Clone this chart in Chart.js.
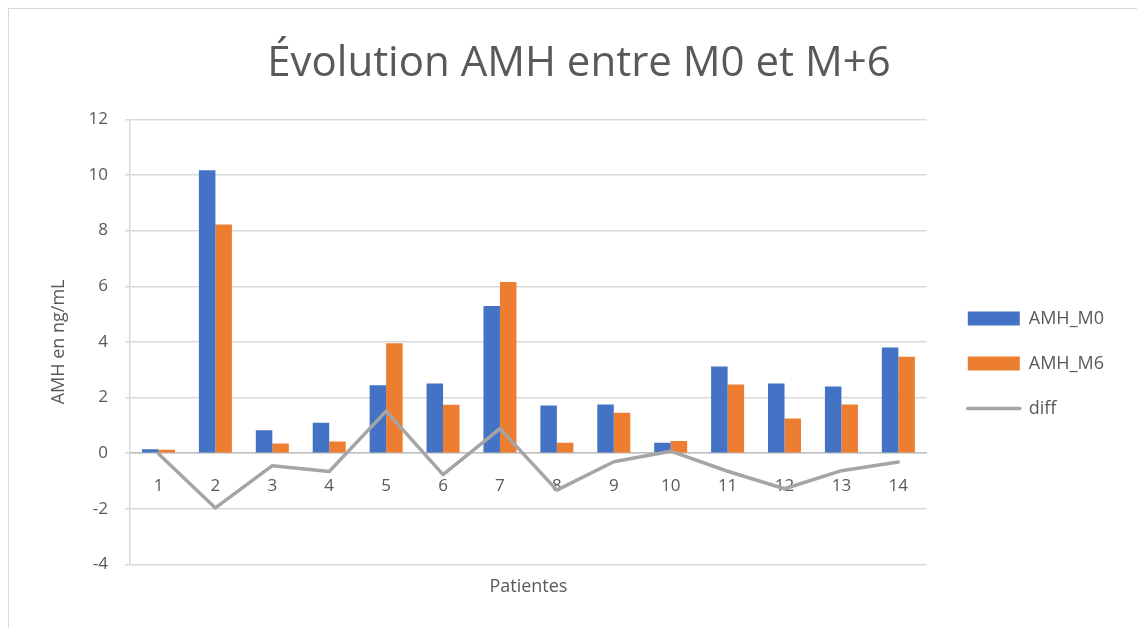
<!DOCTYPE html>
<html>
<head>
<meta charset="utf-8">
<script src="https://cdn.jsdelivr.net/npm/chart.js@4/dist/chart.umd.min.js"></script>
<style>
    html, body { margin: 0; padding: 0; background: #ffffff; }
    #frame { position: absolute; left: 8px; top: 8px; width: 1140px; height: 630px; border: 1px solid #d9d9d9; }
    #wrap { position: absolute; left: 0; top: 0; width: 1137px; height: 628px; }
</style>
</head>
<body>
<div id="frame"></div>
<div id="wrap"><canvas id="amhChart"></canvas></div>
<script>
// Patient numbers (categories)
const patientes = ["1", "2", "3", "4", "5", "6", "7", "8", "9", "10", "11", "12", "13", "14"];
// AMH values (ng/mL) at M0 and M+6
const amhM0 = [0.14, 10.17, 0.82, 1.09, 2.44, 2.50, 5.29, 1.71, 1.75, 0.37, 3.12, 2.50, 2.40, 3.80];
const amhM6 = [0.12, 8.22, 0.35, 0.42, 3.95, 1.74, 6.15, 0.37, 1.45, 0.44, 2.47, 1.25, 1.75, 3.47];
const diff = [-0.02, -1.97, -0.45, -0.66, 1.51, -0.77, 0.88, -1.33, -0.31, 0.07, -0.65, -1.28, -0.63, -0.32];
const yMin = -4;
const yMax = 12;
const yStep = 2;

const textColor = "#595959";
const fontFamily = "'Open Sans', 'Liberation Sans', sans-serif";

document.addEventListener("DOMContentLoaded", function () {
    const ctx = document.getElementById("amhChart").getContext("2d");
    new Chart(ctx, {
        type: "bar",
        data: {
            labels: patientes,
            datasets: [
                { label: "AMH_M0", data: amhM0, backgroundColor: "#4472C4", order: 1 },
                { label: "AMH_M6", data: amhM6, backgroundColor: "#ED7D31", order: 1 },
                {
                    type: "line", label: "diff", data: diff,
                    borderColor: "#A5A5A5", backgroundColor: "#A5A5A5",
                    borderWidth: 3.5, pointRadius: 0, tension: 0,
                    borderCapStyle: "round", borderJoinStyle: "round", order: 0
                }
            ]
        },
        options: {
            responsive: true,
            maintainAspectRatio: false,
            animation: false,
            categoryPercentage: 0.58,
            barPercentage: 1.0,
            layout: { padding: { left: 44, right: 23, top: 39, bottom: 26 } },
            plugins: {
                title: {
                    display: true,
                    text: "Évolution AMH entre M0 et M+6",
                    color: textColor,
                    font: { family: fontFamily, size: 42, weight: "normal" },
                    padding: { top: 0, bottom: 30 }
                },
                legend: {
                    position: "right",
                    // empty title, only used to push the items down
                    title: { display: true, text: "", font: { size: 10 }, padding: { top: 37, bottom: 37 } },
                    labels: {
                        usePointStyle: true,
                        pointStyleWidth: 52,
                        boxHeight: 14,
                        padding: 27,
                        color: textColor,
                        font: { family: fontFamily, size: 18 },
                        generateLabels: function (chart) {
                            const items = Chart.defaults.plugins.legend.labels.generateLabels(chart);
                            items.sort((a, b) => a.datasetIndex - b.datasetIndex);
                            items.forEach(item => {
                                if (item.datasetIndex === 2) {
                                    item.pointStyle = "line";
                                    item.lineWidth = 3.5;
                                    item.lineCap = "round";
                                } else {
                                    item.pointStyle = "rect";
                                    item.lineWidth = 0;
                                }
                            });
                            return items;
                        }
                    }
                },
                tooltip: { enabled: false }
            },
            scales: {
                x: {
                    position: { y: 0 },
                    grid: { display: false },
                    border: { color: "#bfbfbf", width: 1.5 },
                    ticks: { color: textColor, font: { family: fontFamily, size: 17 }, padding: 15 }
                },
                x2: {
                    type: "category",
                    labels: patientes,
                    position: "bottom",
                    grid: { display: false },
                    border: { display: false },
                    ticks: { display: false },
                    title: {
                        display: true, text: "Patientes", color: textColor,
                        font: { family: fontFamily, size: 18 }
                    }
                },
                y: {
                    min: yMin,
                    max: yMax,
                    ticks: { stepSize: yStep, color: textColor, font: { family: fontFamily, size: 17 }, padding: 17 },
                    grid: { color: "#d9d9d9", lineWidth: 1.5, tickLength: 5 },
                    border: { color: "#d9d9d9", width: 1.5 },
                    title: {
                        display: true, text: "AMH en ng/mL", color: textColor,
                        font: { family: fontFamily, size: 18 }, padding: { bottom: 2 }
                    }
                },
                // empty spacer between the plot and the legend
                gap: {
                    type: "linear",
                    position: "right",
                    grid: { display: false },
                    border: { display: false },
                    ticks: { display: false },
                    afterFit: function (scale) { scale.width = 14; }
                }
            }
        }
    });
});
</script>
</body>
</html>
